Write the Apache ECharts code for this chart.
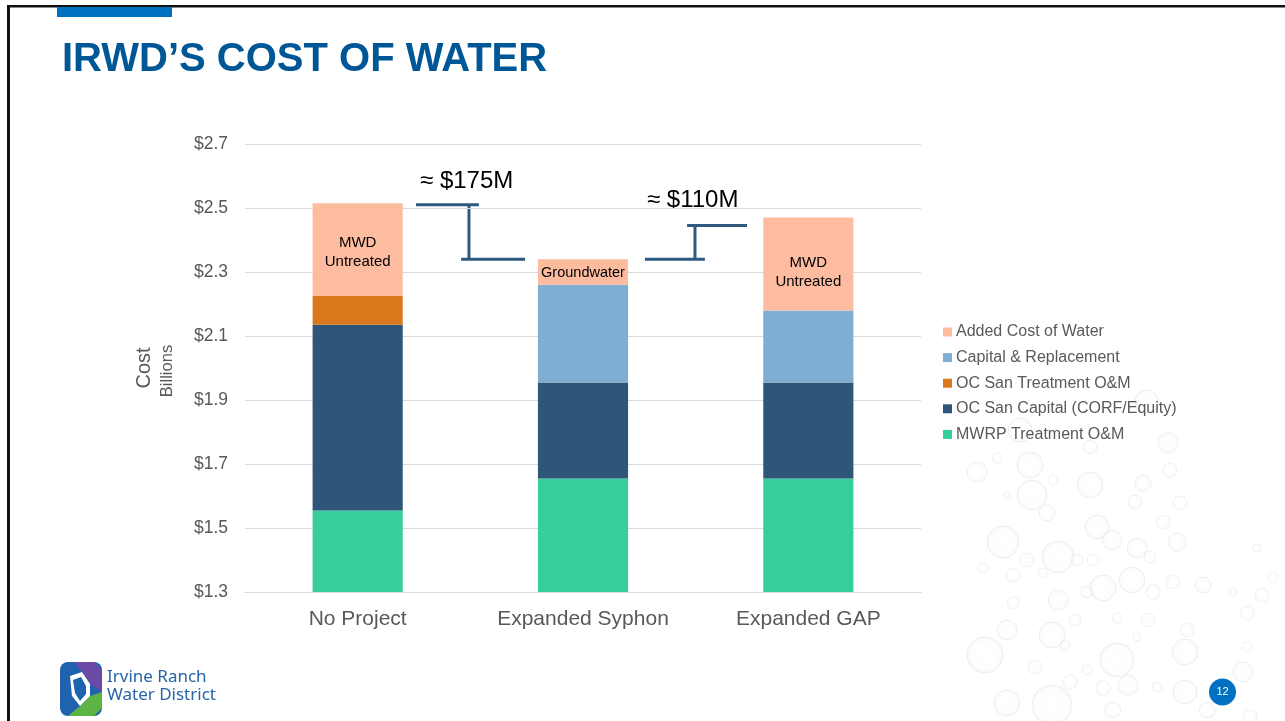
<!DOCTYPE html>
<html>
<head>
<meta charset="utf-8">
<script src="https://cdn.jsdelivr.net/npm/echarts@6/dist/echarts.min.js"></script>
<style>
html,body{margin:0;padding:0;background:#fff;}
#c{width:1285px;height:721px;}
</style>
</head>
<body>
<div id="c"></div>
<script>
// ---------- data ----------
const categories = ['No Project', 'Expanded Syphon', 'Expanded GAP'];
const mwrpTreatmentOM = [1.555, 1.655, 1.655];
const ocSanCapital = [0.58, 0.30, 0.30];
const ocSanTreatmentOM = [0.09, 0, 0];
const capitalReplacement = [0, 0.305, 0.225];
const addedCostOfWater = [0.29, 0.08, 0.29];
const addedCostLabels = ['MWD\nUntreated', 'Groundwater', 'MWD\nUntreated'];
const yMin = 1.3, yMax = 2.7, yStep = 0.2;
const diff1 = { text: '≈ $175M', high: 2.51, low: 2.34 };
const diff2 = { text: '≈ $110M', high: 2.445, low: 2.34 };

// ---------- styles ----------
const FONT = "'Liberation Sans', Arial, sans-serif";
const C = {
  mwrp: '#37CD9D',
  ocCap: '#2D5679',
  ocTreat: '#D9781D',
  capRep: '#80AED3',
  added: '#FDBBA0'
};
const GRAY = '#595959';
const labelOffsets = [[0, 3], [0, 1], [0, 8]];
const labelSizes = [15, 14.5, 15];

const chart = echarts.init(document.getElementById('c'), null, { renderer: 'canvas' });

function bar(name, data, color, extra) {
  return Object.assign({
    name, type: 'bar', stack: 'total', data,
    barWidth: '40%',
    itemStyle: { color },
    emphasis: { disabled: true },
    animation: false
  }, extra || {});
}

const addedData = addedCostOfWater.map((v, i) => ({
  value: v,
  label: {
    show: true,
    formatter: addedCostLabels[i],
    position: 'inside',
    offset: labelOffsets[i],
    color: '#000',
    fontFamily: FONT,
    fontSize: labelSizes[i],
    lineHeight: 19
  }
}));

const bubbles = [
[1147,402,12],[1020,430,12],[1168,443,10],[1090,447,7],[997,458,5],[977,472,10],[1030,465,13],[1170,470,7],
[1090,485,13],[1053,480,5],[1143,483,8],[1032,495,15],[1007,495,3],[1135,502,7],[1180,503,7],[1047,513,8],
[1097,527,12],[1163,522,7],[1003,542,16],[1112,540,10],[1137,548,10],[1177,542,9],[1058,557,16],[1027,560,7],
[1077,560,6],[1093,560,6],[1150,557,6],[1257,548,4],[983,568,5],[1013,575,7],[1043,573,5],[1103,588,13],
[1132,580,13],[1173,582,7],[1203,585,8],[1273,577,5],[1153,592,7],[1058,600,10],[1087,592,6],[1233,592,4],
[1262,595,7],[1247,613,7],[1013,603,6],[1075,620,6],[1117,618,5],[1148,620,7],[1007,630,10],[1052,635,13],
[1187,630,7],[985,655,18],[1117,660,17],[1185,652,13],[1137,637,4],[1247,647,5],[1065,645,5],[1035,667,7],
[1087,670,5],[1243,672,10],[1128,685,10],[1103,688,7],[1070,682,7],[1185,692,12],[1007,703,13],[1052,705,20],
[1113,710,8],[1207,710,8],[1250,717,7],[1157,687,5]
];

const bubbleGraphics = bubbles.map(b => ({
  type: 'circle', silent: true, z: -10,
  shape: { cx: b[0], cy: b[1], r: b[2] },
  style: {
    fill: new echarts.graphic.RadialGradient(0.5, 0.5, 0.5, [
      { offset: 0, color: 'rgba(255,255,255,0)' },
      { offset: 0.8, color: 'rgba(240,240,240,0.15)' },
      { offset: 1, color: 'rgba(215,215,215,0.3)' }
    ]),
    stroke: 'rgba(215,215,215,0.32)',
    lineWidth: 1
  }
}));

const staticGraphics = [
  // frame lines
  { type: 'rect', silent: true, shape: { x: 7, y: 5, width: 1278, height: 2.4 }, style: { fill: '#111' } },
  { type: 'rect', silent: true, shape: { x: 7, y: 5, width: 3, height: 716 }, style: { fill: '#111' } },
  // blue strip
  { type: 'rect', silent: true, shape: { x: 57, y: 7, width: 115, height: 10 }, style: { fill: '#0070C0' } },
  // title
  { type: 'text', silent: true, x: 62, y: 60,
    style: { text: 'IRWD’S COST OF WATER', fill: '#005795', font: "bold 40px 'Liberation Sans', Arial, sans-serif", verticalAlign: 'middle', align: 'left' } },
  // y axis titles
  { type: 'text', silent: true, x: 144, y: 368, rotation: Math.PI / 2,
    style: { text: 'Cost', fill: GRAY, font: "20px 'Liberation Sans', Arial, sans-serif", align: 'center', verticalAlign: 'middle' } },
  { type: 'text', silent: true, x: 167, y: 371, rotation: Math.PI / 2,
    style: { text: 'Billions', fill: GRAY, font: "16.5px 'Liberation Sans', Arial, sans-serif", align: 'center', verticalAlign: 'middle' } },
  // logo icon
  { type: 'group', silent: true, x: 60, y: 662, children: [
    { type: 'rect', shape: { x: 0, y: 0, width: 42, height: 54, r: 8 }, style: { fill: '#1F63AE' } },
    { type: 'polygon', shape: { points: [[14,0],[34,0],[42,8],[42,30],[30,22],[22,10]] }, style: { fill: '#6B4AA5' } },
    { type: 'polygon', shape: { points: [[42,30],[42,46],[34,54],[8,54],[20,44],[30,34]] }, style: { fill: '#5DB346' } },
    { type: 'polygon', shape: { points: [[10,14],[22,10],[30,22],[30,34],[20,44],[12,34]] }, style: { fill: '#ffffff' } },
    { type: 'polygon', shape: { points: [[13,18],[21,15],[26,24],[26,32],[20,39],[15,31]] }, style: { fill: '#1F63AE' } }
  ] },
  { type: 'text', silent: true, x: 107, y: 677,
    style: { text: 'Irvine Ranch', fill: '#2765AB', font: "17px 'Noto Sans', 'Open Sans', sans-serif", verticalAlign: 'middle' } },
  { type: 'text', silent: true, x: 107, y: 695,
    style: { text: 'Water District', fill: '#2765AB', font: "17px 'Noto Sans', 'Open Sans', sans-serif", verticalAlign: 'middle' } },
  // page number
  { type: 'circle', silent: true, z: 5, shape: { cx: 1222.5, cy: 692, r: 13.5 }, style: { fill: '#0070C0' } },
  { type: 'text', silent: true, z: 6, x: 1222.5, y: 692,
    style: { text: '12', fill: '#fff', font: "11px 'Liberation Sans', Arial, sans-serif", align: 'center', verticalAlign: 'middle' } }
];

const option = {
  backgroundColor: '#ffffff',
  animation: false,
  textStyle: { fontFamily: FONT },
  grid: { left: 245, right: 364, top: 144, bottom: 129, containLabel: false },
  xAxis: {
    type: 'category',
    data: categories,
    axisLine: { show: true, lineStyle: { color: '#D9D9D9', width: 1 } },
    axisTick: { show: false },
    axisLabel: { color: GRAY, fontSize: 21, fontFamily: FONT, margin: 17 }
  },
  yAxis: {
    type: 'value',
    min: yMin, max: yMax, interval: yStep,
    axisLine: { show: false },
    axisTick: { show: false },
    splitLine: { lineStyle: { color: '#D9D9D9', width: 1 } },
    axisLabel: {
      color: GRAY, fontSize: 17.5, fontFamily: FONT, margin: 17,
      formatter: v => '$' + (Math.round(v * 10) / 10).toFixed(1)
    }
  },
  legend: {
    orient: 'vertical',
    left: 938, top: 319,
    itemWidth: 9, itemHeight: 9, itemGap: 9.6,
    icon: 'rect',
    selectedMode: false,
    textStyle: { color: GRAY, fontSize: 16, fontFamily: FONT, lineHeight: 16, padding: [0, 0, 0, -1] },
    data: ['Added Cost of Water', 'Capital & Replacement', 'OC San Treatment O&M', 'OC San Capital (CORF/Equity)', 'MWRP Treatment O&M']
  },
  series: [
    bar('MWRP Treatment O&M', mwrpTreatmentOM, C.mwrp),
    bar('OC San Capital (CORF/Equity)', ocSanCapital, C.ocCap),
    bar('OC San Treatment O&M', ocSanTreatmentOM, C.ocTreat),
    bar('Capital & Replacement', capitalReplacement, C.capRep),
    bar('Added Cost of Water', addedData, C.added)
  ],
  graphic: bubbleGraphics.concat(staticGraphics)
};

chart.setOption(option);

// ---------- difference brackets (positioned from the axes) ----------
const cx0 = chart.convertToPixel({ xAxisIndex: 0 }, 0);
const cx1 = chart.convertToPixel({ xAxisIndex: 0 }, 1);
const band = cx1 - cx0;
const py = v => chart.convertToPixel({ yAxisIndex: 0 }, v);
const LC = '#2E5A80', LW = 3;
function hline(x1, x2, y) {
  return { type: 'line', silent: true, shape: { x1, y1: y, x2, y2: y }, style: { stroke: LC, lineWidth: LW } };
}
function vline(x, y1, y2) {
  return { type: 'line', silent: true, shape: { x1: x, y1, x2: x, y2 }, style: { stroke: LC, lineWidth: LW } };
}
const h1 = py(diff1.high), l1 = py(diff1.low);
const h2 = py(diff2.high), l2 = py(diff2.low);
const ANN_FONT = "24px 'Liberation Sans', Arial, sans-serif";
const extra = [
  hline(cx0 + 0.259 * band, cx0 + 0.538 * band, h1),
  vline(cx0 + 0.494 * band, h1, l1),
  hline(cx0 + 0.459 * band, cx0 + 0.743 * band, l1),
  { type: 'text', silent: true, x: cx0 + 0.277 * band, y: h1 - 23,
    style: { text: diff1.text, fill: '#000', font: ANN_FONT, verticalAlign: 'middle' } },
  hline(cx1 + 0.275 * band, cx1 + 0.541 * band, l2),
  vline(cx1 + 0.497 * band, h2, l2),
  hline(cx1 + 0.462 * band, cx1 + 0.728 * band, h2),
  { type: 'text', silent: true, x: cx1 + 0.284 * band - 6, y: h2 - 25,
    style: { text: diff2.text, fill: '#000', font: ANN_FONT, verticalAlign: 'middle',
      backgroundColor: '#fff', padding: [4, 6, 4, 6] } }
];
chart.setOption({ graphic: bubbleGraphics.concat(staticGraphics, extra) });
</script>
</body>
</html>
